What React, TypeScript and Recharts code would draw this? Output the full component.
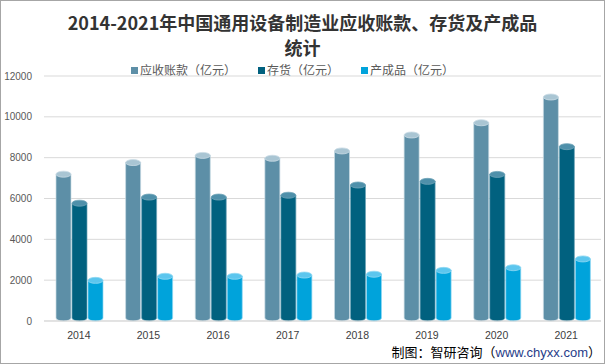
import React from 'react';
import { BarChart, Bar, XAxis, YAxis, CartesianGrid } from 'recharts';

const years = ['2014', '2015', '2016', '2017', '2018', '2019', '2020', '2021'];
const receivables = [7190, 7760, 8110, 7970, 8330, 9110, 9710, 10970];
const inventory = [5770, 6070, 6070, 6160, 6660, 6840, 7180, 8540];
const finished = [1990, 2190, 2190, 2250, 2290, 2480, 2610, 3040];
const yTicks = [0, 2000, 4000, 6000, 8000, 10000, 12000];
const seriesNames = ['应收账款（亿元）', '存货（亿元）', '产成品（亿元）'];
const titleLines = ['2014-2021年中国通用设备制造业应收账款、存货及产成品', '统计'];
const sourcePrefix = '制图：智研咨询（';
const sourceUrl = 'www.chyxx.com';
const sourceSuffix = '）';

const bodyColors = ['#5D8FA7', '#01617F', '#00A3DB'];
const topColors = ['#A9C5D3', '#4F90AA', '#5CC6EE'];
const edgeColors = ['#C9DBE4', '#6FA3B8', '#8FD8F3'];

const data = years.map((y, i) => ({
  year: y,
  r: receivables[i],
  inv: inventory[i],
  fin: finished[i],
}));

const Cylinder = (props: any) => {
  const { x, y, width, height, fill, topFill, edge } = props;
  if (!height || height <= 0) return null;
  const rx = width / 2;
  const ry = 3;
  const cx = x + rx;
  const bottom = y + height;
  const d = `M${x},${y} L${x},${bottom - ry} A${rx},${ry} 0 0 0 ${x + width},${bottom - ry} L${x + width},${y} Z`;
  return (
    <g>
      <path d={d} fill={fill} stroke={edge} strokeWidth={0.7} />
      <ellipse cx={cx} cy={y} rx={rx} ry={ry} fill={topFill} stroke={edge} strokeWidth={0.8} />
    </g>
  );
};

const makeShape = (i: number) => (p: any) => (
  <Cylinder {...p} fill={bodyColors[i]} topFill={topColors[i]} edge={edgeColors[i]} />
);

const cjk = "'Noto Sans CJK SC', 'Noto Sans', sans-serif";

export default function App() {
  return (
    <div
      style={{
        position: 'absolute',
        left: 0,
        top: 0,
        width: 605,
        height: 364,
        background: '#fff',
        boxSizing: 'border-box',
        border: '1px solid #A6A6A6',
        overflow: 'hidden',
      }}
    >
      <div
        style={{
          position: 'absolute',
          left: 0,
          top: 9,
          width: 603,
          textAlign: 'center',
          fontFamily: cjk,
          fontWeight: 700,
          fontSize: 18,
          lineHeight: '25px',
          color: '#333333',
        }}
      >
        {titleLines.map((t) => (
          <div key={t}>{t}</div>
        ))}
      </div>
      <div
        style={{
          position: 'absolute',
          left: 130,
          top: 60,
          display: 'flex',
          alignItems: 'center',
          fontFamily: cjk,
          fontSize: 12,
          lineHeight: '18px',
          color: '#595959',
          whiteSpace: 'nowrap',
        }}
      >
        {seriesNames.map((n, i) => (
          <div key={n} style={{ display: 'flex', alignItems: 'center', marginRight: 22 }}>
            <span
              style={{
                display: 'inline-block',
                width: 7,
                height: 7,
                background: bodyColors[i],
                marginRight: 2,
              }}
            />
            <span>{n}</span>
          </div>
        ))}
      </div>
      <div style={{ position: 'absolute', left: 0, top: 0 }}>
        <BarChart
          width={603}
          height={362}
          data={data}
          margin={{ top: 75, right: 3, bottom: 0, left: 0 }}
          barCategoryGap={12}
          barGap={1}
        >
          <CartesianGrid vertical={false} stroke="#D9D9D9" strokeWidth={1} />
          <XAxis
            dataKey="year"
            height={42}
            tickLine={false}
            axisLine={{ stroke: '#D9D9D9' }}
            tickMargin={5}
            tick={{ fontSize: 10.5, fill: '#404040', fontFamily: "'Liberation Sans', sans-serif" }}
          />
          <YAxis
            width={43}
            domain={[0, 12000]}
            ticks={yTicks}
            interval={0}
            tickLine={false}
            axisLine={false}
            tickMargin={6}
            tick={{ fontSize: 10, fill: '#595959', fontFamily: "'Liberation Sans', sans-serif" }}
          />
          <Bar dataKey="r" name={seriesNames[0]} fill={bodyColors[0]} shape={makeShape(0)} isAnimationActive={false} />
          <Bar dataKey="inv" name={seriesNames[1]} fill={bodyColors[1]} shape={makeShape(1)} isAnimationActive={false} />
          <Bar dataKey="fin" name={seriesNames[2]} fill={bodyColors[2]} shape={makeShape(2)} isAnimationActive={false} />
        </BarChart>
      </div>
      <div
        style={{
          position: 'absolute',
          right: 3,
          top: 342,
          fontFamily: cjk,
          fontSize: 13,
          lineHeight: '18px',
          color: '#000',
          whiteSpace: 'nowrap',
        }}
      >
        {sourcePrefix}
        <span style={{ color: '#1F3C88', fontFamily: "'Liberation Sans', sans-serif" }}>{sourceUrl}</span>
        {sourceSuffix}
      </div>
    </div>
  );
}
